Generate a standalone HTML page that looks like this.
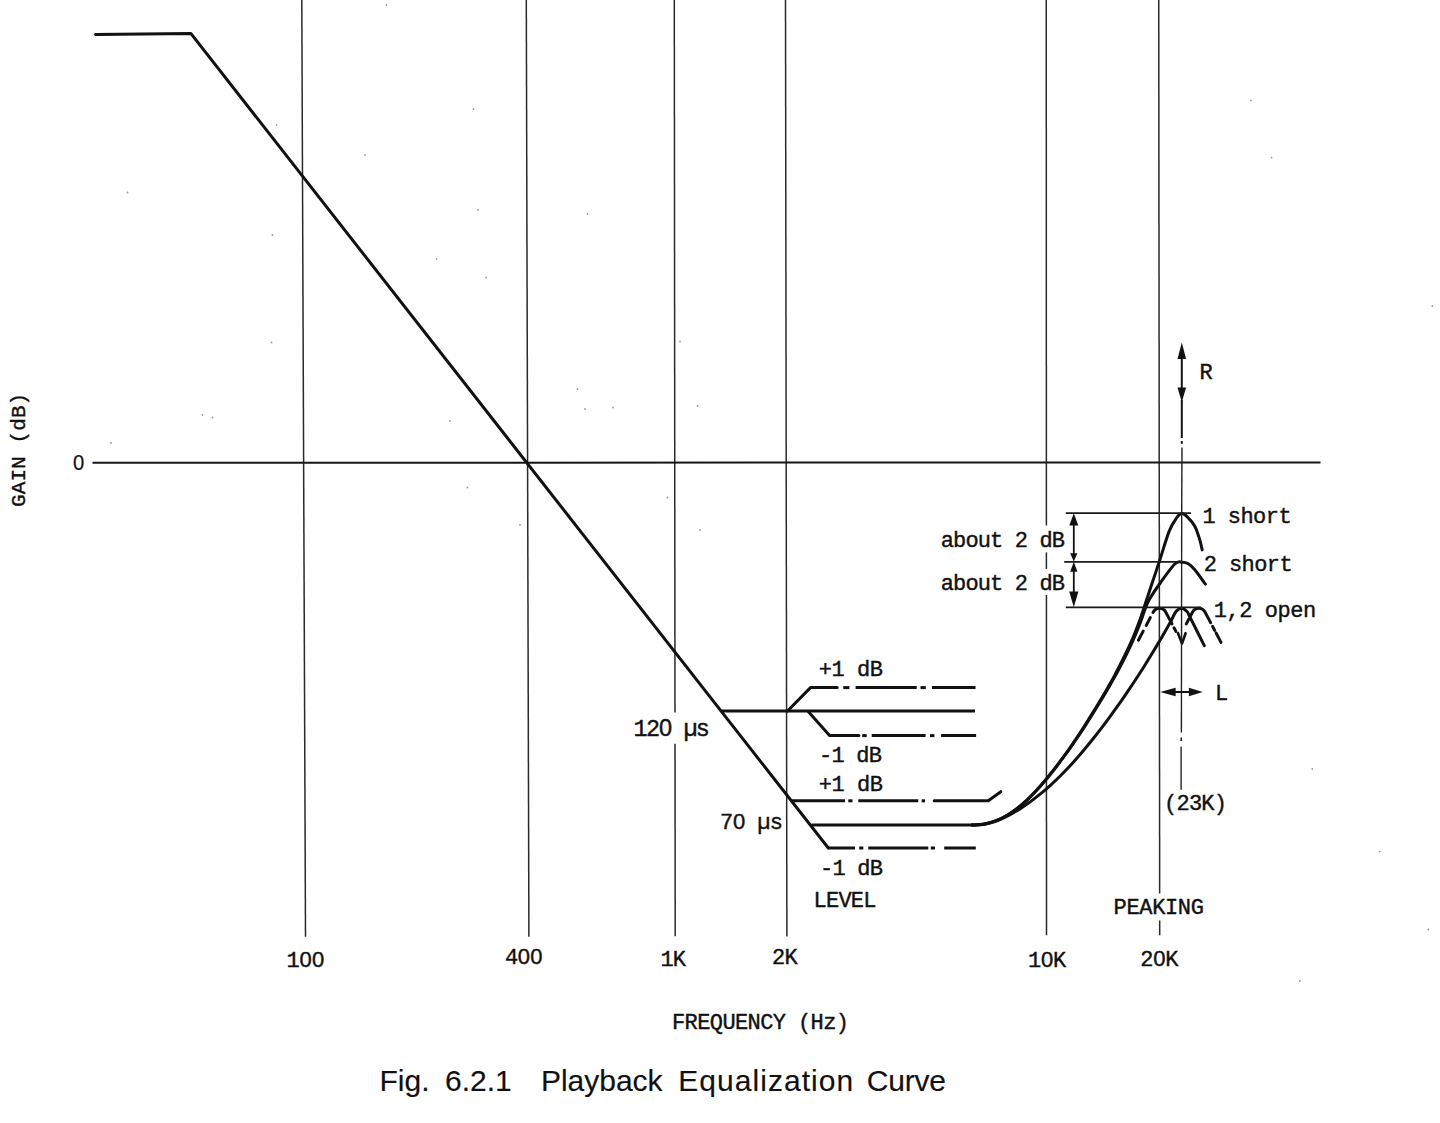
<!DOCTYPE html>
<html><head><meta charset="utf-8"><title>Fig. 6.2.1 Playback Equalization Curve</title>
<style>
html,body{margin:0;padding:0;background:#ffffff;width:1440px;height:1123px;overflow:hidden}
svg{display:block}
text{fill:#111;stroke:#111;stroke-width:0.4px}
</style></head><body>
<svg width="1440" height="1123" viewBox="0 0 1440 1123">
<rect width="1440" height="1123" fill="#ffffff"/>
<line x1="301.79" y1="-2" x2="305.5" y2="936.7" stroke="#2a2a2a" stroke-width="1.5" stroke-linecap="butt"/>
<line x1="526.29" y1="-2" x2="528.9" y2="936.7" stroke="#2a2a2a" stroke-width="1.5" stroke-linecap="butt"/>
<line x1="674.3" y1="-2" x2="674.99" y2="712.6" stroke="#2a2a2a" stroke-width="1.5" stroke-linecap="butt"/>
<line x1="675.02" y1="743.8" x2="675.2" y2="936.2" stroke="#2a2a2a" stroke-width="1.5" stroke-linecap="butt"/>
<line x1="785.5" y1="-2" x2="786.9" y2="936.4" stroke="#2a2a2a" stroke-width="1.5" stroke-linecap="butt"/>
<line x1="1046.25" y1="-2" x2="1046.39" y2="525.6" stroke="#2a2a2a" stroke-width="1.5" stroke-linecap="butt"/>
<line x1="1046.4" y1="552.4" x2="1046.4" y2="568.9" stroke="#2a2a2a" stroke-width="1.5" stroke-linecap="butt"/>
<line x1="1046.41" y1="595.1" x2="1046.5" y2="935.2" stroke="#2a2a2a" stroke-width="1.5" stroke-linecap="butt"/>
<line x1="1158.75" y1="-2" x2="1159.66" y2="893.5" stroke="#2a2a2a" stroke-width="1.5" stroke-linecap="butt"/>
<line x1="1159.69" y1="920.6" x2="1159.7" y2="935.2" stroke="#2a2a2a" stroke-width="1.5" stroke-linecap="butt"/>
<line x1="92.5" y1="462.8" x2="1320.5" y2="462.4" stroke="#151515" stroke-width="2" stroke-linecap="butt"/>
<path d="M95.5 34.5 L190.8 33.4 L828.3 848" stroke="#111" stroke-width="3" fill="none" stroke-linecap="round" stroke-linejoin="round"/>
<line x1="721.5" y1="711.1" x2="975" y2="711.1" stroke="#111" stroke-width="3" stroke-linecap="butt"/>
<path d="M787.5 711 L810.5 687.6 L837.2 687.6" stroke="#111" stroke-width="3" fill="none" stroke-linecap="round" stroke-linejoin="round"/>
<line x1="843.3" y1="687.6" x2="849.4" y2="687.6" stroke="#111" stroke-width="3" stroke-linecap="butt"/>
<line x1="855.6" y1="687.6" x2="916.7" y2="687.6" stroke="#111" stroke-width="3" stroke-linecap="butt"/>
<line x1="920.5" y1="687.6" x2="925.8" y2="687.6" stroke="#111" stroke-width="3" stroke-linecap="butt"/>
<line x1="932" y1="687.6" x2="975.5" y2="687.6" stroke="#111" stroke-width="3" stroke-linecap="butt"/>
<path d="M808.2 711.5 L829.6 735.6 L858.9 735.6" stroke="#111" stroke-width="3" fill="none" stroke-linecap="round" stroke-linejoin="round"/>
<line x1="862.2" y1="735.6" x2="866.7" y2="735.6" stroke="#111" stroke-width="3" stroke-linecap="butt"/>
<line x1="871.7" y1="735.6" x2="925.6" y2="735.6" stroke="#111" stroke-width="3" stroke-linecap="butt"/>
<line x1="930" y1="735.6" x2="934.4" y2="735.6" stroke="#111" stroke-width="3" stroke-linecap="butt"/>
<line x1="941.1" y1="735.6" x2="976.1" y2="735.6" stroke="#111" stroke-width="3" stroke-linecap="butt"/>
<line x1="791.8" y1="800.8" x2="845" y2="800.8" stroke="#111" stroke-width="3" stroke-linecap="butt"/>
<line x1="848.3" y1="800.8" x2="852.5" y2="800.8" stroke="#111" stroke-width="3" stroke-linecap="butt"/>
<line x1="858.3" y1="800.8" x2="918.3" y2="800.8" stroke="#111" stroke-width="3" stroke-linecap="butt"/>
<line x1="921.7" y1="800.8" x2="925" y2="800.8" stroke="#111" stroke-width="3" stroke-linecap="butt"/>
<path d="M934.2 800.8 L988.3 800.8 L1000.8 791.7" stroke="#111" stroke-width="3" fill="none" stroke-linecap="round" stroke-linejoin="round"/>
<line x1="828.3" y1="848" x2="855" y2="848" stroke="#111" stroke-width="3" stroke-linecap="butt"/>
<line x1="859.2" y1="848" x2="863.3" y2="848" stroke="#111" stroke-width="3" stroke-linecap="butt"/>
<line x1="868.3" y1="848" x2="928.3" y2="848" stroke="#111" stroke-width="3" stroke-linecap="butt"/>
<line x1="930.8" y1="848" x2="935" y2="848" stroke="#111" stroke-width="3" stroke-linecap="butt"/>
<line x1="944.2" y1="848" x2="975.8" y2="848" stroke="#111" stroke-width="3" stroke-linecap="butt"/>
<line x1="811.5" y1="825" x2="972" y2="825" stroke="#111" stroke-width="3" stroke-linecap="butt"/>
<path d="M972 825 C974.08 824.85 980.47 824.82 984.5 824.1 C988.53 823.38 992.42 822.18 996.2 820.7 C999.98 819.22 1003.65 817.3 1007.2 815.2 C1010.75 813.1 1014.17 810.67 1017.5 808.1 C1020.83 805.53 1024.07 802.73 1027.2 799.8 C1030.33 796.87 1033.35 793.68 1036.3 790.5 C1039.25 787.32 1042.12 783.98 1044.9 780.7 C1047.68 777.42 1050.38 774.13 1053 770.8 C1055.62 767.47 1058.1 764.07 1060.6 760.7 C1063.1 757.33 1065.6 753.98 1068 750.6 C1070.4 747.22 1072.68 743.82 1075 740.4 C1077.32 736.98 1079.65 733.57 1081.9 730.1 C1084.15 726.63 1086.3 723.12 1088.5 719.6 C1090.7 716.08 1092.92 712.55 1095.1 709 C1097.28 705.45 1099.47 701.9 1101.6 698.3 C1103.73 694.7 1105.82 691.05 1107.9 687.4 C1109.98 683.75 1112.1 680.08 1114.1 676.4 C1116.1 672.72 1118 669.03 1119.9 665.3 C1121.8 661.57 1123.68 657.78 1125.5 654 C1127.32 650.22 1129.1 646.43 1130.8 642.6 C1132.5 638.77 1134.15 634.88 1135.7 631 C1137.25 627.12 1138.7 623.22 1140.1 619.3 C1141.5 615.38 1142.47 612.43 1144.1 607.5 C1145.73 602.57 1147.27 597.65 1149.9 589.7 C1152.53 581.75 1156.68 569.57 1159.9 559.8 C1163.12 550.03 1166.43 538.07 1169.2 531.1 C1171.97 524.13 1174.42 520.92 1176.5 518 C1178.58 515.08 1179.9 513.8 1181.7 513.6 C1183.5 513.4 1185.12 514.7 1187.3 516.8 C1189.48 518.9 1192.72 522.35 1194.8 526.2 C1196.88 530.05 1198.57 535.95 1199.8 539.9 C1201.03 543.85 1201.8 548.23 1202.2 549.9" stroke="#111" stroke-width="3" fill="none" stroke-linecap="round" stroke-linejoin="round"/>
<path d="M972 825 C974.08 824.85 980.47 824.82 984.5 824.1 C988.53 823.38 992.42 822.18 996.2 820.7 C999.99 819.22 1003.66 817.3 1007.22 815.2 C1010.77 813.1 1014.19 810.67 1017.53 808.1 C1020.88 805.53 1024.12 802.73 1027.26 799.8 C1030.41 796.87 1033.44 793.68 1036.4 790.5 C1039.37 787.32 1042.25 783.98 1045.05 780.7 C1047.85 777.42 1050.56 774.13 1053.2 770.8 C1055.83 767.47 1058.34 764.07 1060.86 760.7 C1063.38 757.33 1065.9 753.98 1068.32 750.6 C1070.74 747.22 1073.05 743.82 1075.39 740.4 C1077.73 736.98 1080.09 733.57 1082.36 730.1 C1084.64 726.63 1086.81 723.12 1089.04 719.6 C1091.27 716.08 1093.51 712.55 1095.72 709 C1097.94 705.45 1100.15 701.9 1102.31 698.3 C1104.48 694.7 1106.59 691.05 1108.71 687.4 C1110.82 683.75 1112.97 680.08 1115 676.4 C1117.04 672.72 1118.97 669.03 1120.91 665.3 C1122.84 661.57 1124.76 657.78 1126.62 654 C1128.47 650.22 1130.29 646.43 1132.03 642.6 C1133.77 638.77 1135.46 634.88 1137.05 631 C1138.64 627.12 1140.13 623.22 1141.57 619.3 C1143.01 615.38 1144.31 610.97 1145.7 607.5 C1147.09 604.03 1147.53 602.5 1149.9 598.5 C1152.27 594.5 1155.75 589.25 1159.9 583.5 C1164.05 577.75 1171.08 567.55 1174.8 564 C1178.52 560.45 1179.95 562.23 1182.2 562.2 C1184.45 562.17 1186.2 562.53 1188.3 563.8 C1190.4 565.07 1191.95 566.42 1194.8 569.8 C1197.65 573.18 1203.63 581.72 1205.4 584.1" stroke="#111" stroke-width="3" fill="none" stroke-linecap="round" stroke-linejoin="round"/>
<path d="M972 825 C974.13 824.87 980.63 824.9 984.8 824.2 C988.97 823.5 993.02 822.25 997 820.8 C1000.98 819.35 1004.88 817.48 1008.7 815.5 C1012.52 813.52 1016.27 811.22 1019.9 808.9 C1023.53 806.58 1027.03 804.13 1030.5 801.6 C1033.97 799.07 1037.38 796.42 1040.7 793.7 C1044.02 790.98 1047.23 788.17 1050.4 785.3 C1053.57 782.43 1056.65 779.5 1059.7 776.5 C1062.75 773.5 1065.77 770.42 1068.7 767.3 C1071.63 764.18 1074.48 761.02 1077.3 757.8 C1080.12 754.58 1082.87 751.3 1085.6 748 C1088.33 744.7 1091.03 741.35 1093.7 738 C1096.37 734.65 1099 731.3 1101.6 727.9 C1104.2 724.5 1106.77 721.05 1109.3 717.6 C1111.83 714.15 1114.33 710.67 1116.8 707.2 C1119.27 703.73 1121.68 700.3 1124.1 696.8 C1126.52 693.3 1128.93 689.75 1131.3 686.2 C1133.67 682.65 1135.98 679.08 1138.3 675.5 C1140.62 671.92 1142.93 668.32 1145.2 664.7 C1147.47 661.08 1149.68 657.45 1151.9 653.8 C1154.12 650.15 1156.32 646.48 1158.5 642.8 C1160.68 639.12 1162.87 635.42 1165 631.7 C1167.13 627.98 1169.47 623.87 1171.3 620.5 C1173.13 617.13 1174.3 613.55 1176 611.5 C1177.7 609.45 1179.67 608.2 1181.5 608.2 C1183.33 608.2 1185.52 609.88 1187 611.5 C1188.48 613.12 1187.52 612.2 1190.4 617.9 C1193.28 623.6 1201.98 641.07 1204.3 645.7" stroke="#111" stroke-width="3" fill="none" stroke-linecap="round" stroke-linejoin="round"/>
<path d="M1153 612.52 L1153.31 611.94 A7 7 0 0 1 1165.69 611.94 L1172 623.92" stroke="#111" stroke-width="3" fill="none" stroke-linecap="round" stroke-linejoin="round"/>
<line x1="1150.3" y1="617.65" x2="1146.2" y2="625.44" stroke="#111" stroke-width="3" stroke-linecap="round"/>
<line x1="1143.2" y1="631.14" x2="1138.4" y2="640.26" stroke="#111" stroke-width="3" stroke-linecap="round"/>
<line x1="1174" y1="627.72" x2="1175.9" y2="631.33" stroke="#111" stroke-width="3" stroke-linecap="round"/>
<path d="M1190.5 615.94 L1192.61 611.94 A7 7 0 0 1 1204.99 611.94 L1210.6 622.59" stroke="#111" stroke-width="3" fill="none" stroke-linecap="round" stroke-linejoin="round"/>
<line x1="1189" y1="618.79" x2="1186.3" y2="623.92" stroke="#111" stroke-width="3" stroke-linecap="round"/>
<line x1="1212.6" y1="626.39" x2="1214.7" y2="630.38" stroke="#111" stroke-width="3" stroke-linecap="round"/>
<line x1="1216.1" y1="633.04" x2="1221" y2="642.35" stroke="#111" stroke-width="3" stroke-linecap="round"/>
<path d="M1178 633.2 L1182 643.6 L1185.6 633.2" stroke="#111" stroke-width="2.6" fill="none" stroke-linecap="round" stroke-linejoin="round"/>
<line x1="1065.8" y1="513.1" x2="1191" y2="513.1" stroke="#1a1a1a" stroke-width="1.7" stroke-linecap="butt"/>
<line x1="1064.2" y1="561.8" x2="1181.7" y2="561.8" stroke="#1a1a1a" stroke-width="1.7" stroke-linecap="butt"/>
<line x1="1065.8" y1="607.4" x2="1201" y2="607.4" stroke="#1a1a1a" stroke-width="1.7" stroke-linecap="butt"/>
<line x1="1073.8" y1="520" x2="1073.8" y2="555" stroke="#111" stroke-width="1.8" stroke-linecap="butt"/>
<line x1="1073.8" y1="566" x2="1073.8" y2="600" stroke="#111" stroke-width="1.8" stroke-linecap="butt"/>
<polygon points="1073.8,513.3 1069.3,525.6 1078.3,525.6" fill="#111"/>
<polygon points="1073.8,561.6 1070.2,553.2 1077.4,553.2" fill="#111"/>
<polygon points="1073.8,561.8 1070.2,571.8 1077.4,571.8" fill="#111"/>
<polygon points="1073.8,607.2 1069.2,591.6 1078.4,591.6" fill="#111"/>
<line x1="1181.8" y1="355" x2="1181.8" y2="392" stroke="#111" stroke-width="2" stroke-linecap="butt"/>
<polygon points="1181.8,342.5 1177.5,359 1186.1,359" fill="#111"/>
<polygon points="1181.8,402.2 1177.5,387.6 1186.1,387.6" fill="#111"/>
<line x1="1181.8" y1="400" x2="1181.8" y2="438" stroke="#111" stroke-width="2" stroke-linecap="butt"/>
<line x1="1181.8" y1="441.1" x2="1181.8" y2="443.8" stroke="#111" stroke-width="2" stroke-linecap="butt"/>
<line x1="1182" y1="447.4" x2="1181.7" y2="513" stroke="#222" stroke-width="1.4" stroke-linecap="butt"/>
<line x1="1181.7" y1="513" x2="1181.4" y2="732.4" stroke="#222" stroke-width="1.4" stroke-linecap="butt"/>
<line x1="1181.2" y1="737.4" x2="1181.2" y2="741.1" stroke="#222" stroke-width="1.6" stroke-linecap="butt"/>
<line x1="1181.1" y1="746.7" x2="1181.1" y2="789.75" stroke="#222" stroke-width="1.4" stroke-linecap="butt"/>
<line x1="1170" y1="692" x2="1192" y2="692" stroke="#111" stroke-width="2" stroke-linecap="butt"/>
<polygon points="1160.2,692 1175.6,687.8 1175.6,696.3" fill="#111"/>
<polygon points="1202.8,692 1188.9,687.8 1188.9,696.3" fill="#111"/>
<circle cx="1250.9" cy="100.6" r="0.9" fill="#9a9a9a"/>
<circle cx="1271.5" cy="157.6" r="0.9" fill="#9a9a9a"/>
<circle cx="1432.3" cy="306" r="0.9" fill="#9a9a9a"/>
<circle cx="1312.3" cy="769" r="0.9" fill="#9a9a9a"/>
<circle cx="1379.8" cy="851.6" r="0.9" fill="#9a9a9a"/>
<circle cx="1428.4" cy="929.5" r="0.9" fill="#9a9a9a"/>
<circle cx="1299.8" cy="981" r="0.9" fill="#9a9a9a"/>
<circle cx="386.5" cy="5" r="0.9" fill="#9a9a9a"/>
<circle cx="473.5" cy="109" r="0.9" fill="#9a9a9a"/>
<circle cx="127.5" cy="192.5" r="0.9" fill="#9a9a9a"/>
<circle cx="276.5" cy="125" r="0.9" fill="#9a9a9a"/>
<circle cx="365" cy="155" r="0.9" fill="#9a9a9a"/>
<circle cx="478" cy="210" r="0.9" fill="#9a9a9a"/>
<circle cx="587.5" cy="214" r="0.9" fill="#9a9a9a"/>
<circle cx="272.5" cy="235" r="0.9" fill="#9a9a9a"/>
<circle cx="436.5" cy="259" r="0.9" fill="#9a9a9a"/>
<circle cx="486" cy="277.5" r="0.9" fill="#9a9a9a"/>
<circle cx="680" cy="341.5" r="0.9" fill="#9a9a9a"/>
<circle cx="271.5" cy="342.5" r="0.9" fill="#9a9a9a"/>
<circle cx="577.5" cy="389" r="0.9" fill="#9a9a9a"/>
<circle cx="202.5" cy="415" r="0.9" fill="#9a9a9a"/>
<circle cx="212.5" cy="417.5" r="0.9" fill="#9a9a9a"/>
<circle cx="585" cy="409" r="0.9" fill="#9a9a9a"/>
<circle cx="613" cy="407.5" r="0.9" fill="#9a9a9a"/>
<circle cx="697.5" cy="406" r="0.9" fill="#9a9a9a"/>
<circle cx="111" cy="443" r="0.9" fill="#9a9a9a"/>
<circle cx="450" cy="421" r="0.9" fill="#9a9a9a"/>
<circle cx="467.5" cy="487.5" r="0.9" fill="#9a9a9a"/>
<circle cx="667.5" cy="497.5" r="0.9" fill="#9a9a9a"/>
<circle cx="520" cy="525" r="0.9" fill="#9a9a9a"/>
<circle cx="700" cy="530" r="0.9" fill="#9a9a9a"/>
<text x="73" y="470.4" transform="translate(73 0) scale(0.92 1) translate(-73 0)" font-family='"Liberation Sans", sans-serif' font-size="22" style="stroke:#111;stroke-width:0.2px">0</text>
<text transform="translate(25 507) rotate(-90)" font-family='"Liberation Mono", monospace' font-size="21" letter-spacing="0.1">GAIN (dB)</text>
<text y="967" font-family='"Liberation Mono", monospace' font-size="22" font-weight="normal"><tspan x="286.6">1</tspan><tspan x="299.52" font-family='"Liberation Sans", sans-serif'>0</tspan><tspan x="311.97" font-family='"Liberation Sans", sans-serif'>0</tspan></text>
<text y="964.4" font-family='"Liberation Mono", monospace' font-size="22" font-weight="normal"><tspan x="504.9">4</tspan><tspan x="517.82" font-family='"Liberation Sans", sans-serif'>0</tspan><tspan x="530.27" font-family='"Liberation Sans", sans-serif'>0</tspan></text>
<text x="660.4" y="965.6" font-family='"Liberation Mono", monospace' font-size="22" letter-spacing="-0.75" font-weight="normal">1K</text>
<text x="772" y="964.4" font-family='"Liberation Mono", monospace' font-size="22" letter-spacing="-0.75" font-weight="normal">2K</text>
<text y="966.6" font-family='"Liberation Mono", monospace' font-size="22" font-weight="normal"><tspan x="1028">1</tspan><tspan x="1040.92" font-family='"Liberation Sans", sans-serif'>0</tspan><tspan x="1052.9">K</tspan></text>
<text y="966" font-family='"Liberation Mono", monospace' font-size="22" font-weight="normal"><tspan x="1140.3">2</tspan><tspan x="1153.22" font-family='"Liberation Sans", sans-serif'>0</tspan><tspan x="1165.2">K</tspan></text>
<text x="672" y="1029.2" font-family='"Liberation Mono", monospace' font-size="22" letter-spacing="-0.6" font-weight="normal">FREQUENCY (Hz)</text>
<text x="379.5" y="1091" font-family='"Liberation Sans", sans-serif' font-size="30" letter-spacing="0" font-weight="normal" style="stroke-width:0.15px">Fig.</text>
<text x="445" y="1091" font-family='"Liberation Sans", sans-serif' font-size="30" letter-spacing="0" font-weight="normal" style="stroke-width:0.15px">6.2.1</text>
<text x="540.9" y="1091" font-family='"Liberation Sans", sans-serif' font-size="30" letter-spacing="0" font-weight="normal" style="stroke-width:0.15px">Playback</text>
<text x="678.2" y="1091" font-family='"Liberation Sans", sans-serif' font-size="30" letter-spacing="1.05" font-weight="normal" style="stroke-width:0.15px">Equalization</text>
<text x="866.7" y="1091" font-family='"Liberation Sans", sans-serif' font-size="30" letter-spacing="-0.2" font-weight="normal" style="stroke-width:0.15px">Curve</text>
<text x="1113.6" y="914.3" font-family='"Liberation Mono", monospace' font-size="22" letter-spacing="-0.35" font-weight="normal">PEAKING</text>
<text x="813.5" y="906.6" font-family='"Liberation Mono", monospace' font-size="22" letter-spacing="-0.75" font-weight="normal">LEVEL</text>
<text x="818.8" y="675.6" font-family='"Liberation Mono", monospace' font-size="22" letter-spacing="-0.45" font-weight="normal">+1 dB</text>
<text y="735.5" font-family='"Liberation Mono", monospace' font-size="23.5" font-weight="normal"><tspan x="633.6 646.05">12</tspan><tspan x="659.01" font-family='"Liberation Sans", sans-serif'>0</tspan><tspan x="670.95 683.4 695.85"> µs</tspan></text>
<text x="819" y="762.2" font-family='"Liberation Mono", monospace' font-size="22" letter-spacing="-0.75" font-weight="normal">-1 dB</text>
<text x="818.8" y="790.8" font-family='"Liberation Mono", monospace' font-size="22" letter-spacing="-0.45" font-weight="normal">+1 dB</text>
<text y="829.1" font-family='"Liberation Mono", monospace' font-size="22" font-weight="normal"><tspan x="720">7</tspan><tspan x="732.92" font-family='"Liberation Sans", sans-serif'>0</tspan><tspan x="744.9 757.35 769.8"> µs</tspan></text>
<text x="820" y="874.9" font-family='"Liberation Mono", monospace' font-size="22" letter-spacing="-0.75" font-weight="normal">-1 dB</text>
<text x="940.7" y="546.6" font-family='"Liberation Mono", monospace' font-size="22" letter-spacing="-0.85" font-weight="normal">about 2 dB</text>
<text x="940.7" y="590.2" font-family='"Liberation Mono", monospace' font-size="22" letter-spacing="-0.85" font-weight="normal">about 2 dB</text>
<text x="1202.5" y="522.6" font-family='"Liberation Mono", monospace' font-size="22" letter-spacing="-0.55" font-weight="normal">1 short</text>
<text x="1203.8" y="571.2" font-family='"Liberation Mono", monospace' font-size="22" letter-spacing="-0.6" font-weight="normal">2 short</text>
<text x="1213.8" y="616.9" font-family='"Liberation Mono", monospace' font-size="22" letter-spacing="-0.45" font-weight="normal">1,2 open</text>
<text x="1199.5" y="378.6" font-family='"Liberation Mono", monospace' font-size="22" letter-spacing="-0.75" font-weight="normal">R</text>
<text x="1215" y="699.5" font-family='"Liberation Mono", monospace' font-size="22" letter-spacing="-0.75" font-weight="normal">L</text>
<text x="1164" y="810.2" font-family='"Liberation Mono", monospace' font-size="22" letter-spacing="-0.75" font-weight="normal">(23K)</text>
</svg>
</body></html>
